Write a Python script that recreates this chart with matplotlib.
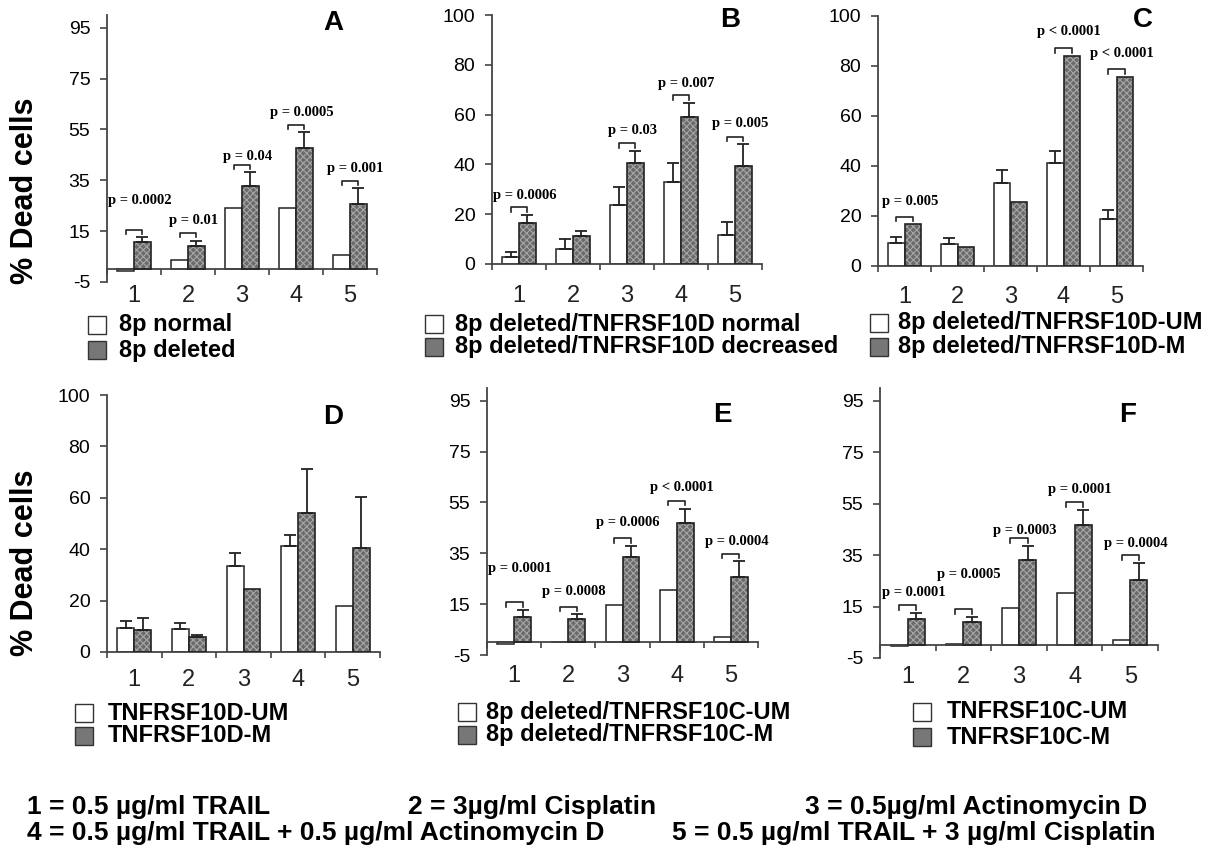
import numpy as np
import matplotlib
matplotlib.use("Agg")
import matplotlib.pyplot as plt
from matplotlib.patches import Rectangle
from matplotlib.transforms import blended_transform_factory

W, H = 1220, 849

plt.rcParams["font.family"] = ["Liberation Sans", "DejaVu Sans"]
plt.rcParams["hatch.linewidth"] = 0.8
plt.rcParams["axes.unicode_minus"] = False

groups = ["1", "2", "3", "4", "5"]

# A: 8p normal / 8p deleted
a_white = [-0.6, 3.6, 24.0, 24.0, 5.6]
a_white_err = [0, 0, 0, 0, 0]
a_gray = [10.6, 9.0, 32.9, 47.8, 25.6]
a_gray_err = [2.0, 2.3, 5.2, 6.0, 6.3]
a_p_groups = [0, 1, 2, 3, 4]
a_p_text = ["p = 0.0002", "p = 0.01", "p = 0.04", "p = 0.0005", "p = 0.001"]
a_p_y = [27.2, 19.3, 44.5, 61.8, 39.8]
a_legend = ["8p normal", "8p deleted"]

# B: 8p deleted / TNFRSF10D normal vs decreased
b_white = [2.9, 5.9, 23.7, 33.1, 11.6]
b_white_err = [1.8, 4.0, 7.1, 7.6, 5.1]
b_gray = [16.6, 11.2, 40.4, 59.2, 39.5]
b_gray_err = [3.1, 2.1, 5.1, 5.6, 8.7]
b_p_groups = [0, 2, 3, 4]
b_p_text = ["p = 0.0006", "p = 0.03", "p = 0.007", "p = 0.005"]
b_p_y = [27.7, 53.8, 72.5, 56.5]
b_legend = ["8p deleted/TNFRSF10D normal", "8p deleted/TNFRSF10D decreased"]

# C: 8p deleted / TNFRSF10D UM vs M
c_white = [9.3, 8.7, 33.3, 41.1, 18.8]
c_white_err = [2.4, 2.5, 5.1, 4.9, 3.6]
c_gray = [16.7, 7.5, 25.5, 84.1, 75.7]
c_gray_err = [0, 0, 0, 0, 0]
c_p_groups = [0, 3, 4]
c_p_text = ["p = 0.005", "p < 0.0001", "p < 0.0001"]
c_p_y = [26.0, 93.7, 85.0]
c_legend = ["8p deleted/TNFRSF10D-UM", "8p deleted/TNFRSF10D-M"]

# D: TNFRSF10D UM vs M
d_white = [9.5, 9.1, 33.4, 41.3, 17.8]
d_white_err = [2.6, 2.3, 5.2, 4.4, 0]
d_gray = [8.4, 5.8, 24.7, 54.2, 40.3]
d_gray_err = [5.0, 0.7, 0, 17.0, 20.1]
d_p_groups = []
d_p_text = []
d_p_y = []
d_legend = ["TNFRSF10D-UM", "TNFRSF10D-M"]

# E: 8p deleted / TNFRSF10C UM vs M
e_white = [-0.5, 0.2, 14.5, 20.5, 2.2]
e_white_err = [0, 0, 0, 0, 0]
e_gray = [10.0, 9.1, 33.4, 46.8, 25.6]
e_gray_err = [2.7, 1.9, 4.6, 5.8, 6.2]
e_p_groups = [0, 1, 2, 3, 4]
e_p_text = ["p = 0.0001", "p = 0.0008", "p = 0.0006", "p < 0.0001", "p = 0.0004"]
e_p_y = [29.2, 19.9, 47.0, 61.0, 39.6]
e_legend = ["8p deleted/TNFRSF10C-UM", "8p deleted/TNFRSF10C-M"]

# F: TNFRSF10C UM vs M
f_white = [-0.5, 0.3, 14.6, 20.4, 1.9]
f_white_err = [0, 0, 0, 0, 0]
f_gray = [10.1, 9.0, 33.3, 46.8, 25.5]
f_gray_err = [2.5, 2.1, 5.2, 5.8, 6.5]
f_p_groups = [0, 1, 2, 3, 4]
f_p_text = ["p = 0.0001", "p = 0.0005", "p = 0.0003", "p = 0.0001", "p = 0.0004"]
f_p_y = [20.4, 27.5, 44.6, 60.6, 39.6]
f_legend = ["TNFRSF10C-UM", "TNFRSF10C-M"]

footnotes = [
    "1 = 0.5 µg/ml TRAIL",
    "2 = 3µg/ml Cisplatin",
    "3 = 0.5µg/ml Actinomycin D",
    "4 = 0.5 µg/ml TRAIL + 0.5 µg/ml Actinomycin D",
    "5 = 0.5 µg/ml TRAIL + 3 µg/ml Cisplatin",
]

EDGE = "#222222"
AXIS = "#444444"
GRAY_FACE = "#6a6a6a"
HATCH = "#a6a6a6"
BW = 0.31


def fig_xy(x, y):
    return x / W, 1 - y / H


def draw_panel(fig, box, ylim, yticks, white, white_err, gray, gray_err,
               p_groups, p_text, p_y, letter, letter_xy, xlab_y, legend, leg_pos):
    left, top, right, bottom = box
    ax = fig.add_axes([left / W, 1 - bottom / H, (right - left) / W, (bottom - top) / H])
    x = np.arange(len(groups))
    white = np.array(white)
    gray = np.array(gray)
    gray_err_arr = np.array(gray_err, dtype=float)

    ax.bar(x - BW / 2, white, BW, color="white", edgecolor=EDGE, linewidth=1.1, zorder=2)
    ax.bar(x + BW / 2, gray, BW, color=GRAY_FACE, edgecolor=HATCH, hatch="xxxxx",
           linewidth=0, zorder=2)
    ax.bar(x + BW / 2, gray, BW, fill=False, edgecolor=EDGE, linewidth=1.2, zorder=3)

    for xs, vals, errs in [(x - BW / 2, white, white_err), (x + BW / 2, gray, gray_err)]:
        errs = np.array(errs, dtype=float)
        m = errs > 0
        if m.any():
            ax.errorbar(xs[m], vals[m], yerr=[np.zeros(m.sum()), errs[m]], fmt="none",
                        ecolor=EDGE, elinewidth=1.3, capsize=4, capthick=1.3, zorder=4)

    # significance brackets
    for g, txt, ty in zip(p_groups, p_text, p_y):
        by = gray[g] + gray_err_arr[g] + 3
        x0, x1 = g - BW / 2, g + BW / 2
        ax.plot([x0, x0, x1, x1], [by - 1.8, by, by, by - 1.8], color=EDGE, lw=1.2,
                zorder=5, clip_on=False)
        ax.text(g + 0.1, ty, txt, ha="center", va="center", fontsize=10.5,
                fontweight="bold", family=["Liberation Serif", "DejaVu Serif"])

    ax.set_xlim(-0.5, len(groups) - 0.5)
    ax.set_ylim(*ylim)
    ax.set_yticks(yticks)
    ax.set_xticks(np.arange(-0.5, len(groups), 1))
    ax.set_xticklabels([])
    ax.spines["top"].set_visible(False)
    ax.spines["right"].set_visible(False)
    ax.spines["bottom"].set_position(("data", 0))
    for s in ("left", "bottom"):
        ax.spines[s].set_color(AXIS)
        ax.spines[s].set_linewidth(1.3)
    ax.tick_params(axis="y", direction="out", length=5, width=1.2, color=AXIS,
                   labelsize=14, pad=7)
    ax.tick_params(axis="x", direction="out", length=4, width=1.2, color=AXIS)
    ax.patch.set_visible(False)

    tr = blended_transform_factory(ax.transData, fig.transFigure)
    for i, lab in enumerate(groups):
        ax.text(i, 1 - xlab_y / H, lab, transform=tr, ha="center", va="center",
                fontsize=17, color="#222222")

    lx, ly = fig_xy(*letter_xy)
    fig.text(lx, ly, letter, ha="center", va="center", fontsize=20, fontweight="bold")

    sq_x, txt_x, rows = leg_pos
    for lab, ry, face in zip(legend, rows, ["white", "#777777"]):
        fig.add_artist(Rectangle((sq_x / W, 1 - (ry + 9) / H), 18 / W, 18 / H,
                                 transform=fig.transFigure, facecolor=face,
                                 edgecolor="#333333", linewidth=1.0))
        tx, tyy = fig_xy(txt_x, ry)
        fig.text(tx, tyy, lab, ha="left", va="center", fontsize=17, fontweight="bold")
    return ax


fig = plt.figure(figsize=(W / 100, H / 100), dpi=100)

ticks_95 = [-5, 15, 35, 55, 75, 95]
ticks_100 = [0, 20, 40, 60, 80, 100]

draw_panel(fig, (107, 15, 377, 282), (-5, 100), ticks_95, a_white, a_white_err, a_gray,
           a_gray_err, a_p_groups, a_p_text, a_p_y, "A", (333, 23), 296, a_legend,
           (88, 119, (325, 350)))
draw_panel(fig, (492, 15, 762, 264), (0, 100), ticks_100, b_white, b_white_err, b_gray,
           b_gray_err, b_p_groups, b_p_text, b_p_y, "B", (730, 20), 296, b_legend,
           (425, 455, (324, 347)))
draw_panel(fig, (878, 16, 1143, 266), (0, 100), ticks_100, c_white, c_white_err, c_gray,
           c_gray_err, c_p_groups, c_p_text, c_p_y, "C", (1143, 20), 297, c_legend,
           (870, 898, (323, 347)))
draw_panel(fig, (107, 395, 380, 652), (0, 100), ticks_100, d_white, d_white_err, d_gray,
           d_gray_err, d_p_groups, d_p_text, d_p_y, "D", (333, 417), 680, d_legend,
           (75, 108, (713, 736)))
draw_panel(fig, (487, 388, 758, 655), (-5, 100), ticks_95, e_white, e_white_err, e_gray,
           e_gray_err, e_p_groups, e_p_text, e_p_y, "E", (722, 415), 676, e_legend,
           (458, 486, (712, 735)))
draw_panel(fig, (880, 388, 1158, 658), (-5, 100), ticks_95, f_white, f_white_err, f_gray,
           f_gray_err, f_p_groups, f_p_text, f_p_y, "F", (1128, 415), 677, f_legend,
           (913, 947, (712, 737)))

# y axis titles
for yc in (191, 563):
    fx, fy = fig_xy(25, yc)
    fig.text(fx, fy, "% Dead cells", rotation=90, ha="center", va="center",
             fontsize=22, fontweight="bold")

# treatment key
foot_pos = [(27, 807), (408, 807), (805, 807), (27, 833), (672, 833)]
for txt, (x, y) in zip(footnotes, foot_pos):
    fx, fy = fig_xy(x, y)
    fig.text(fx, fy, txt, ha="left", va="center", fontsize=19, fontweight="bold")

fig.savefig("out.png", dpi=100)
